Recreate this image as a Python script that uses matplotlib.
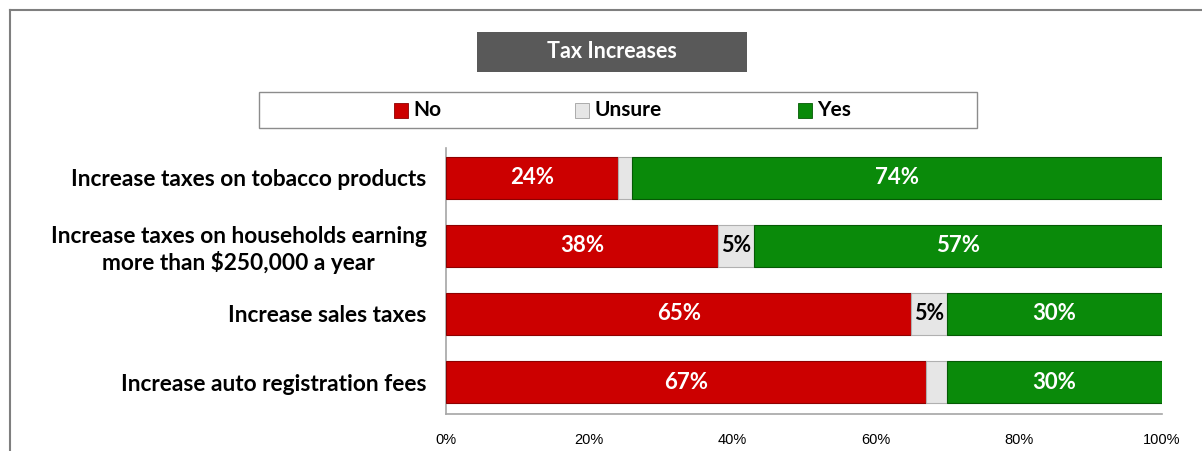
import matplotlib

matplotlib.use("Agg")
import matplotlib.pyplot as plt
from matplotlib.patches import Rectangle
from matplotlib.lines import Line2D

categories = [
    "Increase taxes on tobacco products",
    "Increase taxes on households earning\nmore than $250,000 a year",
    "Increase sales taxes",
    "Increase auto registration fees",
]
no_vals = [24, 38, 65, 67]
unsure_vals = [2, 5, 5, 3]
yes_vals = [74, 57, 30, 30]
tick_vals = [0, 20, 40, 60, 80, 100]
series_names = ["No", "Unsure", "Yes"]

RED = "#CC0000"
GRAY = "#E6E6E6"
GREEN = "#0A8A0A"
BOLD = "Lato"

fig = plt.figure(figsize=(12.02, 4.51), dpi=100)
ax = fig.add_axes([446 / 1202, 1 - 414 / 451, 716 / 1202, 266 / 451])

ypos = list(range(len(categories)))
height = 0.62
segments = [
    (no_vals, [0] * 4, RED, "#8E0000"),
    (unsure_vals, no_vals, GRAY, "#B0B0B0"),
    (yes_vals, [n + u for n, u in zip(no_vals, unsure_vals)], GREEN, "#055A05"),
]
for vals, lefts, face, edge in segments:
    ax.barh(ypos, vals, left=lefts, height=height, color=face,
            edgecolor=edge, linewidth=0.8, zorder=3)

# value labels: white on red/green, black on the small unsure segments
for i in ypos:
    ax.text(no_vals[i] / 2, i, f"{no_vals[i]}%", ha="center", va="center",
            color="white", fontsize=16, fontweight="bold", family=BOLD, zorder=4)
    if unsure_vals[i] >= 5:
        ax.text(no_vals[i] + unsure_vals[i] / 2, i, f"{unsure_vals[i]}%",
                ha="center", va="center", color="black", fontsize=15.5,
                fontweight="bold", family=BOLD, zorder=4)
    ax.text(no_vals[i] + unsure_vals[i] + yes_vals[i] / 2, i, f"{yes_vals[i]}%",
            ha="center", va="center", color="white", fontsize=16,
            fontweight="bold", family=BOLD, zorder=4)

ax.set_xlim(0, 100)
ax.set_ylim(3.47, -0.44)
ax.set_xticks(tick_vals)
ax.set_xticklabels([f"{t}%" for t in tick_vals], family="Liberation Sans",
                   fontsize=10.5)
ax.tick_params(axis="x", length=0, pad=14)
ax.set_yticks(ypos)
ax.set_yticklabels(categories, family=BOLD, fontweight="bold", fontsize=16.3,
                   multialignment="center")
ax.tick_params(axis="y", length=0, pad=14)
for side in ("top", "right"):
    ax.spines[side].set_visible(False)
for side in ("left", "bottom"):
    ax.spines[side].set_color("#A6A6A6")
    ax.spines[side].set_linewidth(1.2)

# outer frame (top and left edges)
fig.add_artist(Line2D([10 / 1202, 1], [1 - 10 / 451] * 2, color="#7F7F7F", lw=1.5))
fig.add_artist(Line2D([10 / 1202] * 2, [0, 1 - 10 / 451], color="#7F7F7F", lw=1.5))

# title box
fig.add_artist(Rectangle((477 / 1202, 1 - 72 / 451), 270 / 1202, 40 / 451,
                         facecolor="#595959", edgecolor="none"))
fig.text(612 / 1202, 1 - 52 / 451, "Tax Increases", ha="center", va="center",
         color="white", fontsize=15.5, fontweight="bold", family=BOLD)

# legend box
fig.add_artist(Rectangle((259 / 1202, 1 - 128 / 451), 718 / 1202, 36 / 451,
                         facecolor="white", edgecolor="#8C8C8C", lw=1))
legend_x = [394, 575, 798]
for name, color, edge, x in zip(series_names, [RED, GRAY, GREEN],
                                ["#8E0000", "#A0A0A0", "#055A05"], legend_x):
    fig.add_artist(Rectangle((x / 1202, 1 - 118 / 451), 14 / 1202, 15 / 451,
                             facecolor=color, edgecolor=edge, lw=0.6))
    fig.text((x + 19) / 1202, 1 - 110 / 451, name, ha="left", va="center",
             fontsize=15, fontweight="bold", family=BOLD)

fig.savefig("out.png", dpi=100)
